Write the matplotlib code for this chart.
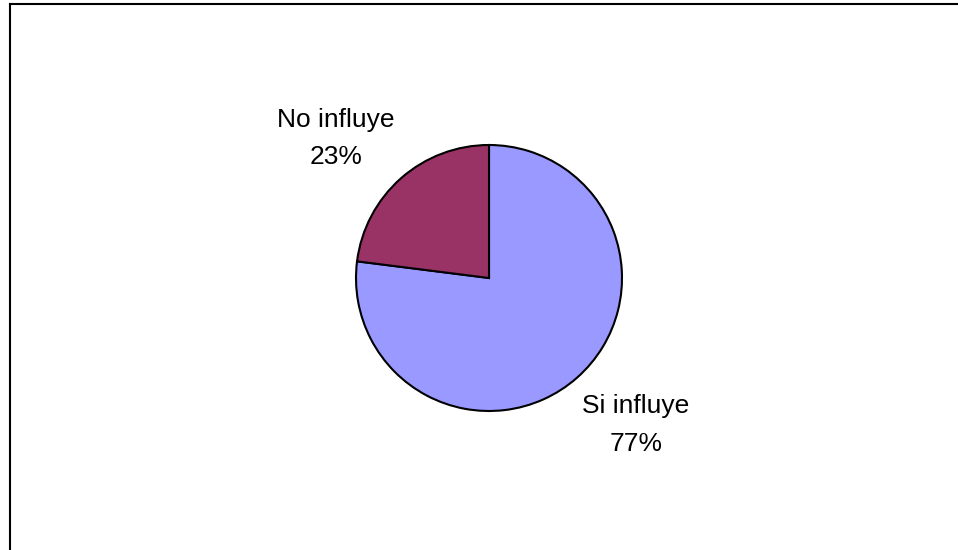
import matplotlib.pyplot as plt
from matplotlib.lines import Line2D

plt.rcParams['font.family'] = ['Liberation Sans', 'DejaVu Sans']

categories = ['Si influye', 'No influye']
shares = [77, 23]
colors = ['#9999FF', '#993366']

W, H = 958, 550
fig = plt.figure(figsize=(W / 100, H / 100), dpi=100)

# chart area border (left and top edges visible)
fig.add_artist(Line2D([9.5 / W, 9.5 / W], [0, 1 - 3.5 / H], color='black', lw=1.5))
fig.add_artist(Line2D([9.5 / W, 1], [1 - 3.5 / H, 1 - 3.5 / H], color='black', lw=1.5))

# pie centred at (489, 278) px, radius 133 px
cx, cy, r = 489, 278, 133
ax = fig.add_axes([(cx - r) / W, (H - cy - r) / H, 2 * r / W, 2 * r / H])
ax.pie(shares, colors=colors, startangle=90, counterclock=False,
       wedgeprops=dict(edgecolor='black', linewidth=1.5))
ax.set_xlim(-1, 1)
ax.set_ylim(-1, 1)
ax.set_aspect('equal')
ax.axis('off')

# data labels, positioned in pie units (radius = 1)
label_pos = {'Si influye': (1.105, -1.105), 'No influye': (-1.15, 1.05)}
for name, val in zip(categories, shares):
    x, y = label_pos[name]
    ax.text(x, y, f'{name}\n{val}%', ha='center', va='center',
            fontsize=19, linespacing=1.7, clip_on=False)

fig.savefig('out.png', dpi=100)
